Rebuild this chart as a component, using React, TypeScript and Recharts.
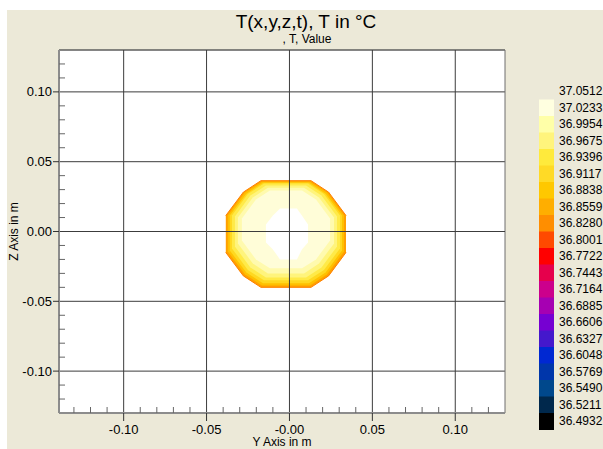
import { ComposedChart, Area, XAxis, YAxis, CartesianGrid, ReferenceLine, ReferenceArea } from 'recharts';

const FONT = "'Liberation Sans', Arial, Helvetica, sans-serif";

// axis ranges and ticks (metres)
const X_DOMAIN: [number, number] = [-0.139, 0.13];
const Y_DOMAIN: [number, number] = [-0.13, 0.13];
const X_TICKS = [-0.1, -0.05, 0, 0.05, 0.1];
const X_TICK_LABELS = ['-0.10', '-0.05', '-0.00', '0.05', '0.10'];
const Y_TICKS = [-0.1, -0.05, 0, 0.05, 0.1];
const Y_TICK_LABELS = ['-0.10', '-0.05', '0.00', '0.05', '0.10'];
const X_MINOR = [-0.13, -0.12, -0.11, -0.09, -0.08, -0.07, -0.06, -0.04, -0.03, -0.02, -0.01,
  0.01, 0.02, 0.03, 0.04, 0.06, 0.07, 0.08, 0.09, 0.11, 0.12];
const Y_MINOR = [-0.12, -0.11, -0.09, -0.08, -0.07, -0.06, -0.04, -0.03, -0.02, -0.01,
  0.01, 0.02, 0.03, 0.04, 0.06, 0.07, 0.08, 0.09, 0.11, 0.12];

// colour scale (°C)
const BAND_LABELS = ['37.0512', '37.0233', '36.9954', '36.9675', '36.9396', '36.9117', '36.8838',
  '36.8559', '36.8280', '36.8001', '36.7722', '36.7443', '36.7164', '36.6885', '36.6606',
  '36.6327', '36.6048', '36.5769', '36.5490', '36.5211', '36.4932'];
const BAND_COLORS = ['#FFFFE0', '#FFFFA8', '#FFF47C', '#FFEA3C', '#FFDA26', '#FFC800', '#FFAE00',
  '#FF8E00', '#FF4A00', '#FF0000', '#E6004C', '#CC008C', '#A600B2', '#7600D2', '#4418CC',
  '#0028D2', '#0036AA', '#00488C', '#00284C', '#000000'];

// contour bands of the hot spot: [y, z bottom, z top]
const BAND_ORANGE = [[-0.0384, -0.015, 0.0114], [-0.0278, -0.0318, 0.0282], [-0.0172, -0.04, 0.0364],
  [0.013, -0.04, 0.0364], [0.0236, -0.0318, 0.0282], [0.0341, -0.015, 0.0114]];
const BAND_AMBER = [[-0.0372, -0.0143, 0.0114], [-0.0269, -0.0307, 0.0279], [-0.0166, -0.0386, 0.0357],
  [0.0124, -0.0386, 0.0357], [0.0227, -0.0307, 0.0279], [0.0329, -0.0143, 0.0114]];
const BAND_GOLD = [[-0.036, -0.0136, 0.0114], [-0.026, -0.0293, 0.0271], [-0.016, -0.0371, 0.035],
  [0.0118, -0.0371, 0.035], [0.0218, -0.0293, 0.0271], [0.0317, -0.0136, 0.0114]];
const BAND_YELLOW = [[-0.0347, -0.0121, 0.0114], [-0.0251, -0.0275, 0.0268], [-0.0154, -0.035, 0.0343],
  [0.0112, -0.035, 0.0343], [0.0208, -0.0275, 0.0268], [0.0305, -0.0121, 0.0114]];
const BAND_PALE = [[-0.0329, -0.0107, 0.0107], [-0.0236, -0.0257, 0.0257], [-0.0142, -0.0329, 0.0329],
  [0.01, -0.0329, 0.0329], [0.0193, -0.0257, 0.0257], [0.0287, -0.0107, 0.0107]];
const BAND_LIGHT = [[-0.0311, -0.0086, 0.01], [-0.0221, -0.0229, 0.0243], [-0.013, -0.03, 0.0314],
  [0.0088, -0.03, 0.0314], [0.0178, -0.0229, 0.0243], [0.0269, -0.0086, 0.01]];
const BAND_CREAM = [[-0.0287, -0.0064, 0.0093], [-0.0202, -0.02, 0.0229], [-0.0118, -0.0264, 0.0293],
  [0.0076, -0.0264, 0.0293], [0.016, -0.02, 0.0229], [0.0245, -0.0064, 0.0093]];
const BAND_CORE = [[-0.0142, -0.0079, 0.005], [-0.01, -0.0129, 0.0114], [-0.0057, -0.02, 0.0164],
  [0.0045, -0.02, 0.0164], [0.0075, -0.0129, 0.0114], [0.0112, -0.0079, 0.005]];

const LEVELS = [
  { name: 'orange', rows: BAND_ORANGE, fill: '#FFA000', stroke: '#FF8000' },
  { name: 'amber', rows: BAND_AMBER, fill: '#FFC000', stroke: 'none' },
  { name: 'gold', rows: BAND_GOLD, fill: '#FFD820', stroke: 'none' },
  { name: 'yellow', rows: BAND_YELLOW, fill: '#FFEA48', stroke: 'none' },
  { name: 'pale', rows: BAND_PALE, fill: '#FFF47C', stroke: 'none' },
  { name: 'light', rows: BAND_LIGHT, fill: '#FFFAAE', stroke: 'none' },
  { name: 'cream', rows: BAND_CREAM, fill: '#FFFDD8', stroke: 'none' },
  { name: 'core', rows: BAND_CORE, fill: '#FFFFFF', stroke: 'none' },
];

const X_ALL_TICKS = [...X_TICKS, ...X_MINOR].sort((a, b) => a - b);

const toPoints = (rows: number[][]) => rows.map(([x, lo, hi]) => ({ x, range: [lo, hi] }));

const labelFor = (ticks: number[], labels: string[]) => (v: number) => {
  const i = ticks.findIndex((t) => Math.abs(t - v) < 1e-9);
  return i >= 0 ? labels[i] : '';
};
const xLabel = labelFor(X_TICKS, X_TICK_LABELS);

const X_TICK_SIZE = 8;
const X_TICK_MARGIN = 3;

// bottom axis: long ticks outside with labels for majors, short ticks inside for minors
const XTick = (props: any) => {
  const { x, y, payload } = props;
  const axisY = y - X_TICK_SIZE - X_TICK_MARGIN;
  const text = xLabel(payload.value);
  if (!text) {
    return <line x1={x} x2={x} y1={axisY} y2={axisY - 6} stroke="#666" />;
  }
  return (
    <g>
      <line x1={x} x2={x} y1={axisY} y2={axisY + X_TICK_SIZE} stroke="#333" />
      <text x={x} y={axisY + 20.5} textAnchor="middle" fontSize={13} fontFamily={FONT} fill="#000">{text}</text>
    </g>
  );
};

const tickStyle = { fill: '#000', fontSize: 13, fontFamily: FONT };
const noLabel = () => '';

const App = () => {
  return (
    <div style={{ position: 'absolute', left: 0, top: 0, width: 603, height: 449, overflow: 'hidden', background: '#fff', fontFamily: FONT }}>
      <div style={{ position: 'absolute', left: 7, top: 10, width: 596, height: 439, background: '#ECE9D8' }} />
      <div style={{ position: 'absolute', left: 0, top: 0 }}>
        <ComposedChart width={603} height={449} margin={{ top: 50, right: 98, bottom: 0, left: 9 }}>
          <CartesianGrid fill="#fff" stroke="#3c3c3c" vertical={false} />
          <XAxis
            type="number"
            dataKey="x"
            domain={X_DOMAIN}
            allowDataOverflow
            ticks={X_ALL_TICKS}
            interval={0}
            height={36}
            tickSize={X_TICK_SIZE}
            tickMargin={X_TICK_MARGIN}
            axisLine={{ stroke: '#8c8c8c', strokeWidth: 2 }}
            tickLine={false}
            tick={<XTick />}
            label={{ value: 'Y Axis in m', position: 'insideBottom', offset: 3, fill: '#000', fontSize: 12, fontFamily: FONT }}
          />
          <YAxis
            type="number"
            domain={Y_DOMAIN}
            allowDataOverflow
            ticks={Y_TICKS}
            interval={0}
            tickFormatter={labelFor(Y_TICKS, Y_TICK_LABELS)}
            width={50}
            tickSize={6}
            tickMargin={1}
            axisLine={{ stroke: '#8c8c8c', strokeWidth: 2 }}
            tickLine={{ stroke: '#333' }}
            tick={tickStyle}
            label={{ value: 'Z Axis in m', angle: -90, position: 'insideLeft', offset: 5, fill: '#000', fontSize: 12, fontFamily: FONT, style: { textAnchor: 'middle' } }}
          />
          <YAxis
            yAxisId="minor"
            type="number"
            domain={Y_DOMAIN}
            allowDataOverflow
            ticks={Y_MINOR}
            interval={0}
            mirror
            tick={tickStyle}
            tickFormatter={noLabel}
            tickSize={6}
            tickLine={{ stroke: '#666' }}
            axisLine={false}
            width={6}
          />
          {LEVELS.map((l) => (
            <Area
              key={l.name}
              data={toPoints(l.rows)}
              dataKey="range"
              type="linear"
              fill={l.fill}
              fillOpacity={1}
              stroke={l.stroke}
              strokeWidth={1}
              dot={false}
              activeDot={false}
              isAnimationActive={false}
            />
          ))}
          {X_TICKS.map((v) => (
            <ReferenceLine key={`vx${v}`} x={v} stroke="#3c3c3c" />
          ))}
          <ReferenceLine y={0} stroke="#3c3c3c" />
          <ReferenceArea x1={X_DOMAIN[0]} x2={X_DOMAIN[1]} y1={Y_DOMAIN[0]} y2={Y_DOMAIN[1]} fill="none" stroke="#6e6e6e" />
        </ComposedChart>
      </div>
      <svg width={603} height={449} style={{ position: 'absolute', left: 0, top: 0, pointerEvents: 'none' }}>
        <text x={306} y={28} textAnchor="middle" fontSize={19} fontFamily={FONT} fill="#000">T(x,y,z,t), T in °C</text>
        <text x={307} y={43} textAnchor="middle" fontSize={12} fontFamily={FONT} fill="#000">, T, Value</text>
        {BAND_COLORS.map((c, i) => (
          <rect key={c + i} x={539} y={99.5 + i * 16.5} width={15} height={17} fill={c} />
        ))}
        {BAND_LABELS.map((t, i) => (
          <text key={t} x={559} y={95.3 + i * 16.5} fontSize={12} fontFamily={FONT} fill="#000">{t}</text>
        ))}
      </svg>
    </div>
  );
};

export default App;
